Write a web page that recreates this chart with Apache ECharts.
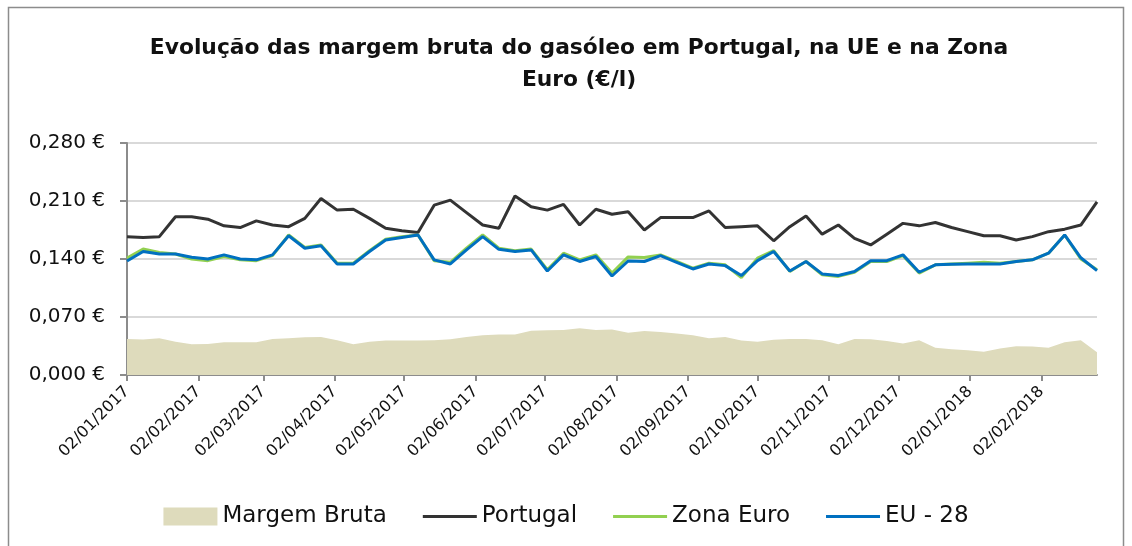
<!DOCTYPE html>
<html>
<head>
<meta charset="utf-8">
<title>Margem bruta do gasóleo</title>
<script src="https://cdn.jsdelivr.net/npm/echarts@6/dist/echarts.min.js"></script>
<style>
  html, body { margin: 0; padding: 0; background: #ffffff; }
  #chart { width: 1132px; height: 546px; }
</style>
</head>
<body>
<div id="chart"></div>
<script>
// weekly values, first week 02/01/2017
var startDate = '2017-01-02'
var margemBruta = [
  0.0435, 0.0427, 0.0444, 0.0400, 0.0370, 0.0375, 0.0395, 0.0395, 0.0395, 0.0435,
  0.0444, 0.0455, 0.0460, 0.0420, 0.0370, 0.0400, 0.0415, 0.0415, 0.0415, 0.0420,
  0.0430, 0.0460, 0.0480, 0.0490, 0.0490, 0.0535, 0.0540, 0.0544, 0.0563, 0.0544,
  0.0550, 0.0510, 0.0530, 0.0520, 0.0500, 0.0480, 0.0443, 0.0460, 0.0415, 0.0400,
  0.0425, 0.0435, 0.0435, 0.0420, 0.0370, 0.0435, 0.0430, 0.0410, 0.0380, 0.0420,
  0.0330, 0.0310, 0.0300, 0.0282, 0.0320, 0.0347, 0.0343, 0.0330, 0.0395, 0.0420,
  0.0275
]
var portugal = [
  0.167, 0.166, 0.167, 0.191, 0.191, 0.188, 0.180, 0.178, 0.186, 0.181,
  0.179, 0.189, 0.213, 0.199, 0.200, 0.189, 0.177, 0.174, 0.172, 0.205,
  0.211, 0.196, 0.181, 0.177, 0.216, 0.203, 0.199, 0.206, 0.181, 0.200,
  0.194, 0.197, 0.175, 0.190, 0.190, 0.190, 0.198, 0.178, 0.179, 0.180,
  0.162, 0.179, 0.192, 0.170, 0.181, 0.165, 0.157, 0.170, 0.183, 0.180,
  0.184, 0.178, 0.173, 0.168, 0.168, 0.163, 0.167, 0.173, 0.176, 0.181,
  0.209
]
var zonaEuro = [
  0.141, 0.152, 0.148, 0.146, 0.140, 0.138, 0.143, 0.139, 0.138, 0.144,
  0.169, 0.154, 0.157, 0.135, 0.135, 0.150, 0.164, 0.167, 0.169, 0.138,
  0.136, 0.153, 0.169, 0.153, 0.150, 0.152, 0.127, 0.147, 0.139, 0.145,
  0.123, 0.1425, 0.1417, 0.145, 0.137, 0.129, 0.135, 0.133, 0.1175, 0.141,
  0.150, 0.125, 0.137, 0.121, 0.119, 0.124, 0.137, 0.137, 0.144, 0.123,
  0.133, 0.134, 0.135, 0.136, 0.135, 0.137, 0.139, 0.147, 0.169, 0.140,
  0.127
]
var eu28 = [
  0.1376, 0.149, 0.146, 0.146, 0.142, 0.140, 0.145, 0.140, 0.139, 0.145,
  0.168, 0.153, 0.156, 0.134, 0.134, 0.149, 0.163, 0.166, 0.169, 0.139,
  0.134, 0.151, 0.167, 0.1517, 0.149, 0.151, 0.1255, 0.145, 0.137, 0.143,
  0.1195, 0.1376, 0.137, 0.144, 0.136, 0.128, 0.134, 0.132, 0.120, 0.138,
  0.149, 0.1255, 0.137, 0.122, 0.120, 0.125, 0.138, 0.138, 0.145, 0.124,
  0.133, 0.1336, 0.134, 0.134, 0.134, 0.137, 0.139, 0.147, 0.169, 0.1415,
  0.126
]
var monthTicks = [
  '2017-01-02', '2017-02-02', '2017-03-02', '2017-04-02', '2017-05-02', '2017-06-02',
  '2017-07-02', '2017-08-02', '2017-09-02', '2017-10-02', '2017-11-02', '2017-12-02',
  '2018-01-02', '2018-02-02'
]
var seriesNames = ['Margem Bruta', 'Portugal', 'Zona Euro', 'EU - 28']

var DAY = 86400000
function ts (s) {
  var p = s.split('-')
  return Date.UTC(+p[0], +p[1] - 1, +p[2])
}
// x is counted in days from startDate
function dayOf (s) { return Math.round((ts(s) - ts(startDate)) / DAY) }
var weekDays = portugal.map(function (v, i) { return i * 7 })
var tickDays = monthTicks.map(dayOf)

function pairs (vals) {
  return vals.map(function (v, i) { return [weekDays[i], v] })
}
function pad (n) { return (n < 10 ? '0' : '') + n }

var font = 'DejaVu Sans'
var lineIcon = 'path://M0,0 H54 V3 H0 Z'
var chart = echarts.init(document.getElementById('chart'))
chart.setOption({
  animation: false,
  textStyle: { fontFamily: font },
  title: {
    text: 'Evolução das margem bruta do gasóleo em Portugal, na UE e na Zona\nEuro (€/l)',
    left: 574,
    top: 27,
    textAlign: 'center',
    textStyle: { fontFamily: font, fontSize: 21.8, fontWeight: 'bold', color: '#111', lineHeight: 32 }
  },
  graphic: [{
    type: 'rect',
    shape: { x: 8.5, y: 7.5, width: 1115, height: 560 },
    style: { fill: 'none', stroke: '#8c8c8c', lineWidth: 1.5 },
    silent: true
  }],
  legend: {
    bottom: 13,
    left: 'center',
    itemWidth: 54,
    itemHeight: 18,
    itemGap: 36,
    textStyle: { fontFamily: font, fontSize: 23, color: '#111' },
    data: [
      { name: seriesNames[0], icon: 'rect' },
      { name: seriesNames[1], icon: lineIcon },
      { name: seriesNames[2], icon: lineIcon },
      { name: seriesNames[3], icon: lineIcon }
    ]
  },
  grid: { left: 127, right: 35, top: 143, bottom: 171, containLabel: false },
  xAxis: {
    type: 'value',
    min: 0,
    max: weekDays[weekDays.length - 1],
    axisLine: { lineStyle: { color: '#8c8c8c', width: 2 } },
    axisTick: { show: true, length: 6, lineStyle: { color: '#8c8c8c', width: 2 }, customValues: tickDays },
    splitLine: { show: false },
    axisLabel: {
      rotate: 45,
      fontSize: 16,
      color: '#111',
      margin: 14,
      customValues: tickDays,
      formatter: function (v) {
        var d = new Date(ts(startDate) + v * DAY)
        return pad(d.getUTCDate()) + '/' + pad(d.getUTCMonth() + 1) + '/' + d.getUTCFullYear()
      }
    }
  },
  yAxis: {
    type: 'value',
    min: 0,
    max: 0.28,
    interval: 0.07,
    axisLine: { show: true, lineStyle: { color: '#8c8c8c', width: 2 } },
    axisTick: { show: true, length: 7, lineStyle: { color: '#8c8c8c', width: 2 } },
    splitLine: { lineStyle: { color: '#d9d9d9', width: 2 } },
    axisLabel: {
      fontSize: 20,
      color: '#111',
      margin: 22,
      formatter: function (v) { return v.toFixed(3).replace('.', ',') + ' €' }
    }
  },
  series: [
    {
      name: seriesNames[0],
      type: 'line',
      symbol: 'none',
      data: pairs(margemBruta),
      lineStyle: { width: 0, color: '#dedbbc' },
      itemStyle: { color: '#dedbbc' },
      areaStyle: { color: '#dedbbc', opacity: 1 }
    },
    {
      name: seriesNames[1],
      type: 'line',
      symbol: 'none',
      data: pairs(portugal),
      lineStyle: { width: 3, color: '#333333' },
      itemStyle: { color: '#333333' }
    },
    {
      name: seriesNames[2],
      type: 'line',
      symbol: 'none',
      data: pairs(zonaEuro),
      lineStyle: { width: 3, color: '#92d050' },
      itemStyle: { color: '#92d050' }
    },
    {
      name: seriesNames[3],
      type: 'line',
      symbol: 'none',
      data: pairs(eu28),
      lineStyle: { width: 3, color: '#0070c0' },
      itemStyle: { color: '#0070c0' }
    }
  ]
})
</script>
</body>
</html>
